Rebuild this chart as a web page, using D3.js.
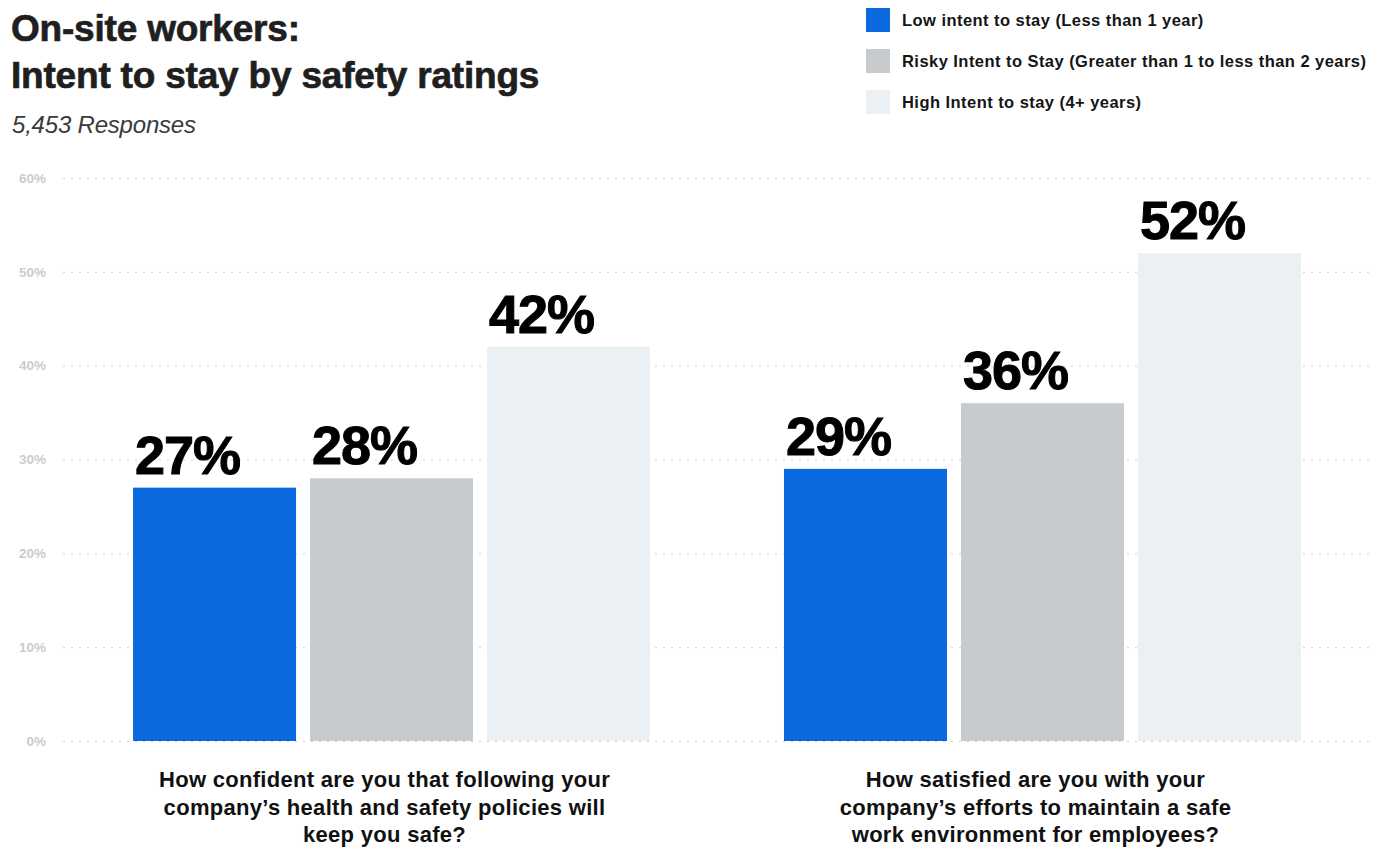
<!DOCTYPE html>
<html>
<head>
<meta charset="utf-8">
<script src="https://cdn.jsdelivr.net/npm/d3@7"></script>
<style>
  html, body { margin: 0; padding: 0; background: #fff; }
  svg { display: block; }
</style>
</head>
<body>
<svg id="chart" width="1391" height="851"></svg>
<script>
// Survey questions (x-axis groups), split into display lines
const questions = [
  "How confident are you that following your company’s health and safety policies will keep you safe?",
  "How satisfied are you with your company’s efforts to maintain a safe work environment for employees?"
];
const questionLines = [
  ["How confident are you that following your", "company’s health and safety policies will", "keep you safe?"],
  ["How satisfied are you with your", "company’s efforts to maintain a safe", "work environment for employees?"]
];

// Intent-to-stay series
const seriesNames = [
  "Low intent to stay (Less than 1 year)",
  "Risky Intent to Stay (Greater than 1 to less than 2 years)",
  "High Intent to stay (4+ years)"
];
const seriesColors = ["#0a69de", "#c8cbce", "#ebf0f4"];

// Percent of respondents, one array per series (order follows questions)
const lowIntent   = [27, 29];
const riskyIntent = [28, 36];
const highIntent  = [42, 52];
const seriesValues = [lowIntent, riskyIntent, highIntent];

const yTicks = [0, 10, 20, 30, 40, 50, 60];

const svg = d3.select("#chart");
const fontMain = "'Liberation Sans', Arial, sans-serif";

// Scales
const y = d3.scaleLinear().domain([0, 60]).range([741, 178]);
const x0 = d3.scaleBand().domain(questions).range([66, 1368])
  .paddingInner(0.2058).paddingOuter(0.103);
const x1 = d3.scaleBand().domain(seriesNames).range([0, x0.bandwidth()])
  .paddingInner(0.079).paddingOuter(0);

// Title block
["On-site workers:", "Intent to stay by safety ratings"].forEach((line, i) => {
  svg.append("text").attr("x", 11).attr("y", 41 + i * 47)
    .attr("font-family", fontMain).attr("font-weight", 700)
    .attr("font-size", 37).attr("letter-spacing", -0.2)
    .attr("fill", "#1f1f1f").attr("stroke", "#1f1f1f").attr("stroke-width", 0.7)
    .text(line);
});
svg.append("text").attr("x", 12).attr("y", 133)
  .attr("font-family", fontMain).attr("font-style", "italic").attr("font-weight", 300)
  .attr("font-size", 24).attr("letter-spacing", -0.2).attr("fill", "#3a3a3a")
  .text("5,453 Responses");

// Legend
const legend = svg.append("g").attr("transform", "translate(866,8)");
seriesNames.forEach((name, i) => {
  const g = legend.append("g").attr("transform", `translate(0,${i * 41})`);
  g.append("rect").attr("width", 24).attr("height", 24).attr("fill", seriesColors[i]);
  g.append("text").attr("x", 36).attr("y", 18)
    .attr("font-family", fontMain).attr("font-weight", 700)
    .attr("font-size", 16.5).attr("letter-spacing", 0.45).attr("fill", "#151515")
    .text(name);
});

// Y axis with dotted gridlines
const yAxis = d3.axisLeft(y).tickValues(yTicks)
  .tickFormat(d => d + "%").tickSize(-(1370 - 63)).tickPadding(17);
const yg = svg.append("g").attr("transform", "translate(63,0)").call(yAxis);
yg.select(".domain").remove();
yg.selectAll(".tick line")
  .attr("stroke", "#cfcfcf").attr("stroke-width", 1).attr("stroke-dasharray", "2,6");
yg.selectAll(".tick text")
  .attr("font-family", fontMain).attr("font-weight", 700)
  .attr("font-size", 13.5).attr("fill", "#cccccc");

// Bars
const groups = svg.selectAll(".grp").data(questions).enter().append("g")
  .attr("class", "grp").attr("transform", d => `translate(${x0(d)},0)`);

groups.each(function(q, qi) {
  const g = d3.select(this);
  seriesNames.forEach((s, si) => {
    const v = seriesValues[si][qi];
    g.append("rect")
      .attr("x", x1(s)).attr("y", y(v))
      .attr("width", x1.bandwidth()).attr("height", y(0) - y(v))
      .attr("fill", seriesColors[si]);
    g.append("text")
      .attr("x", x1(s) + 2).attr("y", y(v) - 14)
      .attr("font-family", fontMain).attr("font-weight", 700)
      .attr("font-size", 54).attr("letter-spacing", -1)
      .attr("fill", "#000").attr("stroke", "#000").attr("stroke-width", 1)
      .text(v + "%");
  });
  // Question label
  const t = g.append("text")
    .attr("text-anchor", "middle")
    .attr("font-family", fontMain).attr("font-weight", 700)
    .attr("font-size", 22).attr("letter-spacing", 0.3).attr("fill", "#111");
  questionLines[qi].forEach((line, li) => {
    t.append("tspan").attr("x", x0.bandwidth() / 2 - 7).attr("y", 787 + li * 27.5).text(line);
  });
});
</script>
</body>
</html>
